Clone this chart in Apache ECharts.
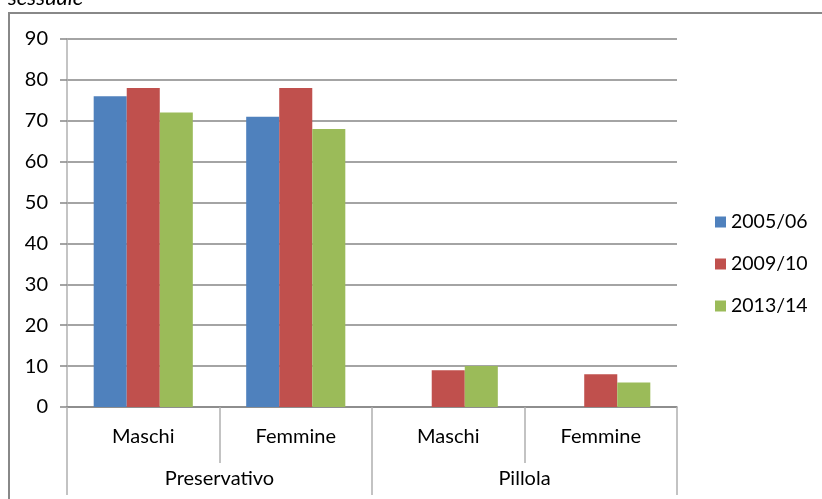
<!DOCTYPE html>
<html><head><meta charset="utf-8">
<script src="https://cdn.jsdelivr.net/npm/echarts@6/dist/echarts.min.js"></script>
<style>html,body{margin:0;padding:0;background:#fff}#c{width:822px;height:499px}</style>
</head><body><div id="c"></div>
<script>
const subCategories = ['Maschi','Femmine','Maschi','Femmine'];
const groupCategories = ['Preservativo','Pillola'];
const seriesNames = ['2005/06','2009/10','2013/14'];
const v2005 = [76, 71, 0, 0];
const v2009 = [78, 78, 9, 8];
const v2013 = [72, 68, 10, 6];
const colors = ['#4F81BD','#C0504D','#9BBB59'];
const FONT = 'Lato';
const chart = echarts.init(document.getElementById('c'));
const values = [v2005, v2009, v2013];
chart.setOption({
  animation:false,
  textStyle:{fontFamily:FONT},
  title:{text:'sessuale', left:3, top:-13, padding:[0,5],
    textStyle:{fontSize:22, fontStyle:'italic', fontWeight:'normal', fontFamily:FONT, color:'#000'}},
  graphic:[
    {type:'rect', shape:{x:9,y:13,width:830,height:520}, style:{fill:'none',stroke:'#888',lineWidth:2}}
  ],
  grid:{left:67,right:145,top:39,bottom:92},
  legend:{orient:'vertical', left:710, top:207, itemWidth:11, itemHeight:11, itemGap:22,
    icon:'rect', textStyle:{fontSize:19.5, color:'#000', fontFamily:FONT}, data:seriesNames},
  xAxis:[
    {type:'category', data:subCategories, position:'bottom',
      axisLine:{show:true, lineStyle:{color:'#868686', width:1.5}},
      axisTick:{show:true, interval:0, length:56, lineStyle:{color:'#b0b0b0', width:1.5}},
      axisLabel:{fontSize:20, color:'#000', margin:20, fontFamily:FONT, interval:0}},
    {type:'category', data:groupCategories, position:'bottom',
      axisLine:{show:false},
      axisTick:{show:true, interval:0, length:88, lineStyle:{color:'#b0b0b0', width:1.5}},
      axisLabel:{fontSize:20, color:'#000', margin:62, fontFamily:FONT, interval:0}}
  ],
  yAxis:{type:'value', min:0, max:90, interval:10,
    axisLine:{show:true, lineStyle:{color:'#b0b0b0', width:1.5}},
    axisTick:{show:true, length:7, lineStyle:{color:'#868686', width:1.5}},
    splitLine:{lineStyle:{color:'#868686', width:1.5}},
    axisLabel:{fontSize:20, color:'#000', margin:19, fontFamily:FONT}},
  series: seriesNames.map((n,i)=>({
    name:n, type:'bar', xAxisIndex:0, data:values[i],
    barGap:'0%', barCategoryGap:'35%', itemStyle:{color:colors[i]}
  }))
});
</script></body></html>
